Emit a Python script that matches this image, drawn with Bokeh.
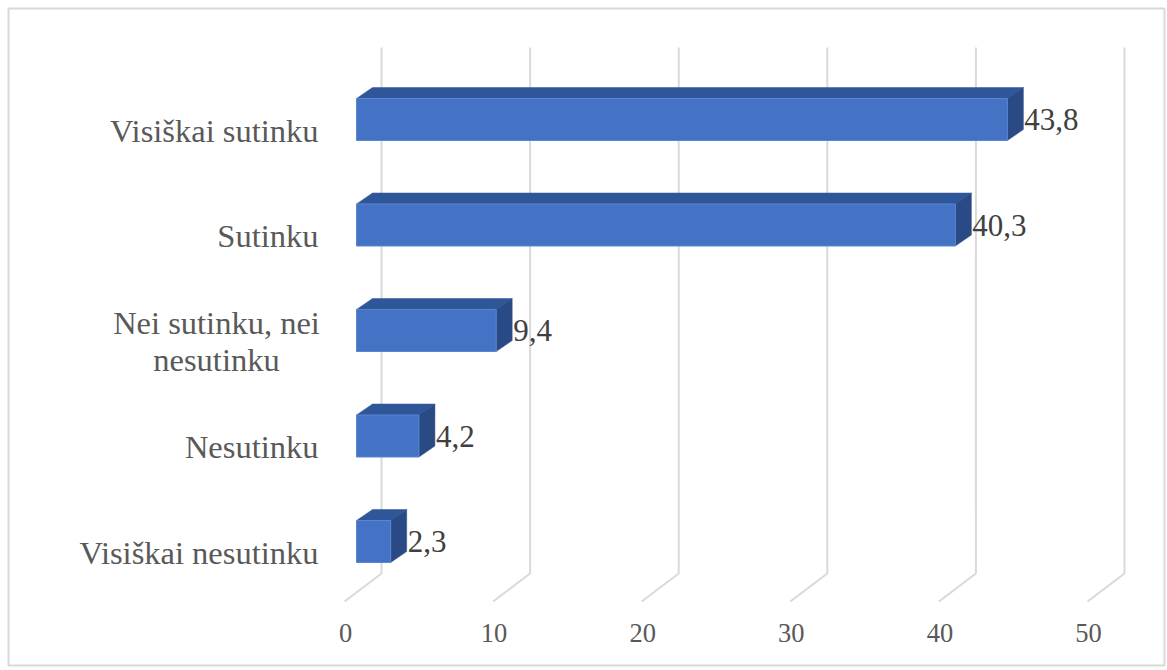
from bokeh.plotting import figure
from bokeh.models import Range1d, ColumnDataSource
from bokeh.core.properties import value
from bokeh.embed import file_html
from bokeh.resources import INLINE

# ---- data ----
categories = ["Visiškai nesutinku", "Nesutinku", "Nei sutinku, nei\nnesutinku", "Sutinku", "Visiškai sutinku"]
values = [2.3, 4.2, 9.4, 40.3, 43.8]
ticks = [0, 10, 20, 30, 40, 50]

# ---- pixel-to-data helpers (style constants) ----
PX = 14.86   # px per value unit
PY = 105.5   # px per category step
def dx(px):
    return px / PX
def dy(px):
    return px / PY

FONT = "Liberation Serif"
FRONT = "#4472C4"
TOP = "#30569A"
SIDE = "#2A4A86"
GRID = "#D9D9D9"

p = figure(width=1167, height=670, output_backend="svg", toolbar_location=None,
           x_range=Range1d(dx(8 - 344), dx(1164 - 344)),
           y_range=Range1d(-dy(665 - 552), dy(552 - 8)),
           x_axis_location=None, y_axis_location=None,
           min_border_left=8, min_border_right=3, min_border_top=8, min_border_bottom=5,
           background_fill_color="white", border_fill_color="white")
p.grid.visible = False
p.outline_line_color = "#D9D9D9"
p.outline_line_width = 2

# ---- 3D gridlines ----
g_back = dx(37)
y_top = len(categories) - 1 + dy(130 - 47)
y_floor_back = -dy(573 - 552)
y_floor_front = -dy(601 - 552)
gxs = [[t + g_back, t + g_back, t] for t in ticks]
gys = [[y_top, y_floor_back, y_floor_front] for t in ticks]
p.multi_line(gxs, gys, line_color=GRID, line_width=2)

# ---- 3D bars ----
x0 = dx(12)
half = dy(21)
lift = dy(11)
ddx = dx(16)
ddy = dy(11)
idx = list(range(len(categories)))
lefts = [x0 for v in values]
rights = [x0 + v for v in values]
bottoms = [i + lift - half for i in idx]
tops = [i + lift + half for i in idx]

top_xs = [[l, l + ddx, r + ddx, r] for l, r in zip(lefts, rights)]
top_ys = [[t, t + ddy, t + ddy, t] for t in tops]
side_xs = [[r, r, r + ddx, r + ddx] for r in rights]
side_ys = [[b, t, t + ddy, b + ddy] for b, t in zip(bottoms, tops)]

p.patches(top_xs, top_ys, fill_color=TOP, line_color=TOP, line_width=0.5)
p.patches(side_xs, side_ys, fill_color=SIDE, line_color=SIDE, line_width=0.5)
p.quad(left=lefts, right=rights, bottom=bottoms, top=tops,
       fill_color=FRONT, line_color="#5A85D0", line_width=1)

# ---- data labels ----
lab_src = ColumnDataSource(dict(
    x=[r + ddx + dx(1) for r in rights],
    y=[i + lift for i in idx],
    t=[f"{v:.1f}".replace(".", ",") for v in values]))
p.text(x="x", y="y", text="t", source=lab_src, text_font=value(FONT),
       text_font_size="31px", text_color="#404040",
       text_align="left", text_baseline="middle")

# ---- category labels ----
single = [(i, c) for i, c in zip(idx, categories) if "\n" not in c]
multi = [(i, c) for i, c in zip(idx, categories) if "\n" in c]
p.text(x=[dx(318 - 344)] * len(single), y=[i for i, c in single], text=[c for i, c in single],
       text_font=value(FONT), text_font_size="32.5px", text_color="#595959",
       text_align="right", text_baseline="middle")
p.text(x=[dx(216 - 344)] * len(multi), y=[i for i, c in multi], text=[c for i, c in multi],
       text_font=value(FONT), text_font_size="32.5px", text_color="#595959",
       text_align="center", text_baseline="middle", text_line_height=1.02)

# ---- value-axis tick labels ----
p.text(x=[t + dx(1) for t in ticks], y=[-dy(632 - 552)] * len(ticks), text=[str(t) for t in ticks],
       text_font=value(FONT), text_font_size="26.5px", text_color="#595959",
       text_align="center", text_baseline="middle")

open("out.html", "w").write(file_html(p, INLINE))
